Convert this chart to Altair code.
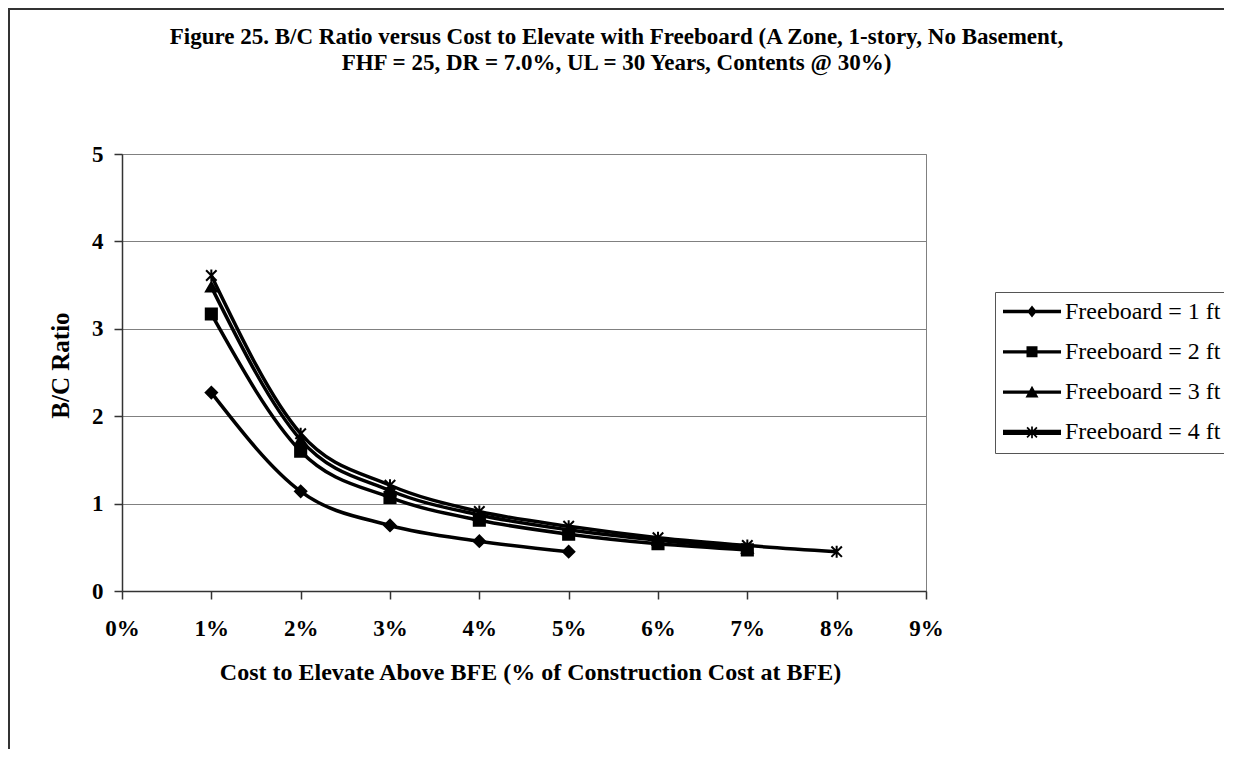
import altair as alt
import pandas as pd

# ---- data ----
series_names = ["Freeboard = 1 ft", "Freeboard = 2 ft", "Freeboard = 3 ft", "Freeboard = 4 ft"]
cost_pct = [1, 2, 3, 4, 5, 6, 7, 8]
fb1 = [2.27, 1.14, 0.75, 0.57, 0.45]
fb2 = [3.17, 1.60, 1.07, 0.81, 0.65, 0.54, 0.47]
fb3 = [3.48, 1.73, 1.15, 0.87, 0.70, 0.58, 0.49]
fb4 = [3.61, 1.80, 1.21, 0.91, 0.74, 0.61, 0.52, 0.45]
x_ticks = [0, 1, 2, 3, 4, 5, 6, 7, 8, 9]
y_ticks = [0, 1, 2, 3, 4, 5]
title_lines = ["Figure 25. B/C Ratio versus Cost to Elevate with Freeboard (A Zone, 1-story, No Basement,",
               "FHF = 25, DR = 7.0%, UL = 30 Years, Contents @ 30%)"]

rows = []
for name, vals in zip(series_names, [fb1, fb2, fb3, fb4]):
    for c, v in zip(cost_pct, vals):
        rows.append({"series": name, "cost": c, "bc": v})
df = pd.DataFrame(rows)

FONT = "Liberation Serif"
ASTERISK = "M-1,-1L1,1M-1,1L1,-1M0,-1.15L0,1.15"


def bar(t):
    return f"M-1,-{t}H1V{t}H-1Z "


STAR = ("M-0.03,-0.2H0.03V0.2H-0.03Z "
        "M-0.149,-0.191L0.191,0.149L0.149,0.191L-0.191,-0.149Z "
        "M-0.191,0.149L0.149,-0.191L0.191,-0.149L-0.149,0.191Z")

# legend symbols: line + marker as filled custom paths
leg_paths = [
    bar(0.057) + "M0,-0.207L0.165,0L0,0.207L-0.165,0Z",
    bar(0.057) + "M-0.19,-0.19H0.19V0.19H-0.19Z",
    bar(0.057) + "M0,-0.22L0.224,0.19H-0.224Z",
    bar(0.093) + STAR,
]

x_enc = alt.X("cost:Q", scale=alt.Scale(domain=[0, 9]),
              axis=alt.Axis(values=x_ticks, labelExpr="datum.value + '%'", grid=False,
                            labelFlush=False,
                            title="Cost to Elevate Above BFE (% of Construction Cost at BFE)",
                            titleX=408, titleY=88, titleBaseline="alphabetic",
                            titleAlign="center"))
y_enc = alt.Y("bc:Q", scale=alt.Scale(domain=[0, 5]),
              axis=alt.Axis(values=y_ticks, format="d", title="B/C Ratio", grid=True,
                            labelFlush=False,
                            titleX=-54, titleY=211, titleAngle=270, titleFontSize=25,
                            titleBaseline="alphabetic", titleAlign="center"))

lines = alt.Chart(df).mark_line(interpolate="monotone", color="black").encode(
    x=x_enc, y=y_enc,
    detail="series:N",
    strokeWidth=alt.StrokeWidth("series:N", scale=alt.Scale(domain=series_names, range=[3.5, 3.5, 4.5, 6.5]),
                                legend=None),
    order="cost:Q",
)

points = alt.Chart(df).mark_point(filled=True, fill="black", stroke="black", strokeWidth=2, opacity=1).encode(
    x="cost:Q", y="bc:Q",
    shape=alt.Shape("series:N", scale=alt.Scale(domain=series_names,
                                                range=["diamond", "square", "triangle-up", ASTERISK]),
                    legend=None),
    size=alt.Size("series:N", scale=alt.Scale(domain=series_names, range=[130, 110, 150, 150]), legend=None),
)

legend_layer = alt.Chart(df).mark_point(filled=True, fill="black", opacity=1).encode(
    x=alt.value(-600), y=alt.value(-600),
    shape=alt.Shape("series:N", scale=alt.Scale(domain=series_names, range=leg_paths),
                    legend=alt.Legend(title=None, orient="none", legendX=873, legendY=138,
                                      symbolSize=3364, clipHeight=23, rowPadding=15.3,
                                      padding=8, labelOffset=4, labelFont=FONT, labelFontSize=24,
                                      labelColor="black", labelLimit=400,
                                      symbolFillColor="black", symbolStrokeWidth=0, symbolOpacity=1,
                                      strokeColor="#555555", fillColor="white")),
)

frame = alt.Chart(alt.Data(values=[{"a": 1}])).mark_rect(
    fill="white", fillOpacity=0, stroke="#333333", strokeWidth=2, clip=False
).encode(x=alt.value(-113), x2=alt.value(1103), y=alt.value(-145), y2=alt.value(700))

title = alt.Chart(alt.Data(values=[{"a": 1}])).mark_text(
    text=title_lines, font=FONT, fontSize=23, fontWeight="bold", color="black",
    align="center", baseline="alphabetic", lineHeight=26, clip=False
).encode(x=alt.value(494.5), y=alt.value(-110))

chart = alt.layer(frame, title, lines, points, legend_layer).resolve_scale(
    shape="independent", size="independent"
).properties(
    width=804, height=437,
    autosize=alt.AutoSizeParams(type="none"),
    padding={"left": 114, "top": 146, "right": 298, "bottom": 158},
).configure_view(
    stroke="#808080", strokeWidth=1
).configure_axis(
    labelFont=FONT, labelFontSize=23, labelFontWeight="bold", labelColor="black",
    titleFont=FONT, titleFontSize=24, titleFontWeight="bold", titleColor="black",
    domainColor="#333333", domainWidth=1.5, tickColor="#333333", tickWidth=1.5, tickSize=8,
    gridColor="#808080", gridWidth=1,
).configure_axisX(labelPadding=18).configure_axisY(labelPadding=11)

chart.save("out.html", embed_options={"renderer": "svg", "actions": False})
